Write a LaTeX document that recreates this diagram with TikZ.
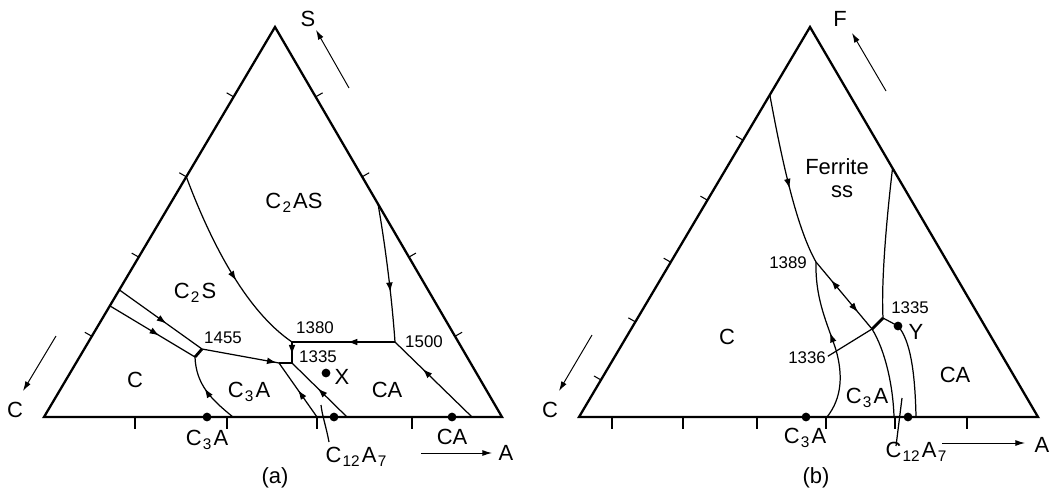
\documentclass[tikz,border=0pt]{standalone}
\usepackage{fontspec}
\setmainfont{Liberation Sans}
\usetikzlibrary{calc,arrows.meta,decorations.markings}
\newcommand{\subs}[1]{\kern0.7pt\textsubscript{#1}\kern0.7pt}
\tikzset{
  side/.style={line width=1.3pt, line join=miter},
  bnd/.style={line width=0.7pt},
  junct/.style={line width=1.6pt},
  flow/.style={postaction={decorate,decoration={markings,mark=at position #1 with {\arrow{Latex[length=5.5pt,width=3.8pt]}}}}},
  flowback/.style={postaction={decorate,decoration={markings,mark=at position #1 with {\arrowreversed{Latex[length=5.5pt,width=3.8pt]}}}}},
  tickmark/.style={line width=0.6pt},
  dirarrow/.style={line width=0.55pt, -{Latex[length=5.5pt,width=3.4pt]}},
  field/.style={font=\fontsize{12.5}{14}\selectfont, inner sep=0pt},
  tlabel/.style={font=\fontsize{9.6}{11}\selectfont, inner sep=0pt},
  dot/.style={circle, fill, inner sep=0pt, minimum size=5pt},
}
\begin{document}
\begin{tikzpicture}[x=0.02cm, y=-0.02cm]
  \useasboundingbox (0,0) rectangle (1053,494);

  % (a) C - A - S
  \coordinate (Ca) at (44,417);
  \coordinate (Aa) at (502,417);
  \coordinate (Sa) at (275,27);
  \draw[side] (Ca) -- (Sa) -- (Aa) -- cycle;
  \foreach \t in {0.207,0.41,0.616,0.821} {
    \draw[tickmark] ($(Ca)!\t!(Sa)$) -- ++(-7,-4);
    \draw[tickmark] ($(Aa)!\t!(Sa)$) -- ++(7,-4);
  }
  \foreach \x in {135,227,317,412}
    \draw[tickmark] (\x,417) -- (\x,429);

  \coordinate (a1380) at (292,342);
  \coordinate (a1335) at (292,363);
  \coordinate (a1500) at (395,342);
  \coordinate (a1455) at (202,349);
  \coordinate (aC3S) at (195,357);
  \coordinate (aJ) at (279,363);
  \coordinate (aL1) at ($(Ca)!0.616!(Sa)$);
  \coordinate (aL9) at ($(Ca)!0.326!(Sa)$);
  \coordinate (aL10) at ($(Ca)!0.285!(Sa)$);
  \coordinate (aR1) at ($(Aa)!0.546!(Sa)$);
  \coordinate (aB4) at (472,417);
  \coordinate (aB6) at (347,417);
  \coordinate (aB7) at (317,417);
  \coordinate (aB12) at (233,417);

  \draw[bnd, flow=0.58] (aL1) .. controls (210,240) and (245,310) .. (a1380);
  \draw[bnd, flow=0.46] (a1500) -- (a1380);
  \draw[bnd, flow=0.64] (aR1) .. controls (386,250) and (392,300) .. (a1500);
  \draw[bnd, flow=0.64] (aB4) -- (a1500);
  \draw[bnd, flow=0.6] (a1380) -- (a1335);
  \draw[bnd, flow=0.53] (aB6) -- (a1335);
  \draw[bnd, flow=0.5] (aB7) -- (aJ);
  \draw[bnd, flow=0.97] (a1455) -- (aJ);
  \draw[bnd] (aJ) -- (a1335);
  \draw[bnd, flow=0.57] (aL9) -- (a1455);
  \draw[bnd, flow=0.58] (aL10) -- (aC3S);
  \draw[junct] (a1455) -- (aC3S);
  \draw[bnd, flow=0.55] (aB12) .. controls (212,400) and (196,385) .. (aC3S);

  \node[dot] (aC3A) at (207,417) {};
  \node[dot] (aC12A7) at (334,417) {};
  \node[dot] (aCA) at (452,417) {};
  \node[dot] (aX) at (326,373) {};

  \node[field] (fC2AS) at (294,203) {C\subs{2}AS};
  \node[field] (fC2S) at (195,293) {C\subs{2}S};
  \node[field] (fCa) at (135,380) {C};
  \node[field] (fC3Aa) at (249,392) {C\subs{3}A};
  \node[field] (fCAa) at (387,390) {CA};
  \node[field] (lX) at (342,377) {X};
  \node[tlabel] (t1455) at (223,338) {1455};
  \node[tlabel] (t1380) at (315,328) {1380};
  \node[tlabel] (t1335a) at (318,357) {1335};
  \node[tlabel] (t1500) at (424,342) {1500};
  \node[field] (cC3Aa) at (207,440) {C\subs{3}A};
  \node[field] (cC12A7a) at (357,457) {C\subs{12}A\subs{7}};
  \node[field] (cCAa) at (452,437) {CA};
  \coordinate (aLead) at (329,442);
  \draw[bnd] (aLead) .. controls (326,426) and (322,415) .. (321,405);

  \coordinate (aSt) at (349,88);
  \coordinate (aSh) at (316,30);
  \draw[dirarrow] (aSt) -- (aSh);
  \node[field] (lSa) at (308,19) {S};
  \coordinate (aCt) at (56,336);
  \coordinate (aCh) at (23,391);
  \draw[dirarrow] (aCt) -- (aCh);
  \node[field] (lCa) at (15,410) {C};
  \coordinate (aAt) at (421,453);
  \coordinate (aAh) at (492,453);
  \draw[dirarrow] (aAt) -- (aAh);
  \node[field] (lAa) at (506,453) {A};
  \node[field] (capa) at (275,478) {(a)};

  % (b) C - A - F
  \coordinate (Cb) at (579,417);
  \coordinate (Ab) at (1038,417);
  \coordinate (Fb) at (810,27);
  \draw[side] (Cb) -- (Fb) -- (Ab) -- cycle;
  \foreach \t in {0.095,0.244,0.397,0.556,0.71}
    \draw[tickmark] ($(Cb)!\t!(Fb)$) -- ++(-7,-4);
  \foreach \x in {612,683,757,826,895,967}
    \draw[tickmark] (\x,417) -- (\x,429);

  \coordinate (b1389) at (816,262);
  \coordinate (b1336) at (872,329);
  \coordinate (b1335) at (883,318);
  \coordinate (bL1) at ($(Cb)!0.826!(Fb)$);
  \coordinate (bR3) at ($(Ab)!0.638!(Fb)$);
  \coordinate (bB2) at (894,417);
  \coordinate (bBY) at (916,417);
  \coordinate (bB5) at (827,417);

  \draw[bnd, flow=0.55] (bL1) .. controls (780,150) and (795,225) .. (b1389);
  \draw[bnd, flowback=0.27, flow=0.75] (b1389) -- (b1336);
  \draw[bnd] (b1336) .. controls (885,350) and (893,385) .. (bB2);
  \draw[bnd] (bR3) .. controls (887,215) and (881,280) .. (b1335);
  \draw[junct] (b1336) -- (b1335);
  \node[dot] (bY) at (898,326) {};
  \draw[bnd] (b1335) -- (bY.center) .. controls (910,340) and (915,370) .. (bBY);
  \draw[bnd, flow=0.55] (bB5) .. controls (842,398) and (843,375) .. (836,350)
    .. controls (828,325) and (815,300) .. (b1389);

  \node[dot] (bC3A) at (806,417) {};
  \node[dot] (bC12A7) at (908,417) {};

  \node[field] (fFerr) at (837,167) {Ferrite};
  \node[field] (fss) at (842,192) {ss};
  \node[field] (fCb) at (727,337) {C};
  \node[field] (fCAb) at (955,375) {CA};
  \node[field] (fC3Ab) at (867,398) {C\subs{3}A};
  \node[field] (lY) at (916,332) {Y};
  \node[tlabel] (t1389) at (788,263) {1389};
  \node[tlabel] (t1335b) at (910,308) {1335};
  \node[tlabel] (t1336) at (807,358) {1336};
  \draw[bnd] ([xshift=1pt,yshift=1pt]t1336.east) -- (b1336);
  \node[field] (cC3Ab) at (805,438) {C\subs{3}A};
  \node[field] (cC12A7b) at (917,452) {C\subs{12}A\subs{7}};
  \coordinate (bLead) at (896,446);
  \draw[bnd] (bLead) -- (902,398);

  \coordinate (bFt) at (886,91);
  \coordinate (bFh) at (852,33);
  \draw[dirarrow] (bFt) -- (bFh);
  \node[field] (lFb) at (840,19) {F};
  \coordinate (bCt) at (592,335);
  \coordinate (bCh) at (559,391);
  \draw[dirarrow] (bCt) -- (bCh);
  \node[field] (lCb) at (550,410) {C};
  \coordinate (bAt) at (942,443);
  \coordinate (bAh) at (1025,443);
  \draw[dirarrow] (bAt) -- (bAh);
  \node[field] (lAb) at (1042,445) {A};
  \node[field] (capb) at (816,478) {(b)};
\end{tikzpicture}
\end{document}
